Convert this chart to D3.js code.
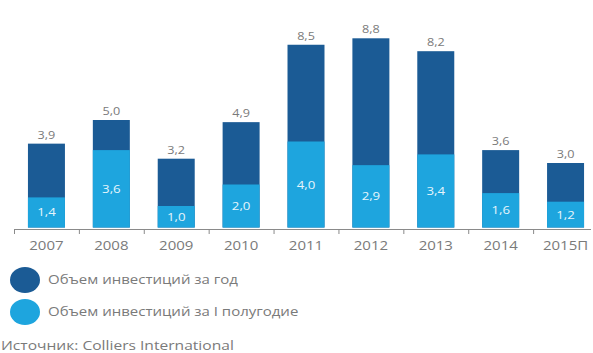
<!DOCTYPE html>
<html>
<head>
<meta charset="utf-8">
<script src="https://cdn.jsdelivr.net/npm/d3@7"></script>
<style>
  html, body { margin: 0; padding: 0; background: #fff; }
  svg { display: block; font-family: "Open Sans", "Noto Sans", sans-serif; }
</style>
</head>
<body>
<svg id="chart" width="593" height="353"></svg>
<script>
// Investment volume, bn (year total and first half-year)
const years = ["2007", "2008", "2009", "2010", "2011", "2012", "2013", "2014", "2015П"];
const totalYear = [3.9, 5.0, 3.2, 4.9, 8.5, 8.8, 8.2, 3.6, 3.0];
const firstHalf = [1.4, 3.6, 1.0, 2.0, 4.0, 2.9, 3.4, 1.6, 1.2];
const legendLabels = ["Объем инвестиций за год", "Объем инвестиций за I полугодие"];
const sourceText = "Источник: Colliers International";

const colorYear = "#1b5b95";
const colorHalf = "#1ea5de";
const textGrey = "#7a7a7a";

const svg = d3.select("#chart");
const fmt = v => d3.format(".1f")(v).replace(".", ",");

// text set in a slightly widened face
function wideText(sel, cx, cy, opts) {
  const g = sel.append("g")
    .attr("transform", `translate(${cx},${cy}) scale(${opts.sx || 1.2},1)`);
  return g.append("text")
    .attr("text-anchor", opts.anchor || "middle")
    .attr("dy", "0.35em")
    .attr("font-size", opts.size)
    .attr("fill", opts.fill || textGrey)
    .text(opts.text);
}

const x = d3.scaleBand()
  .domain(years)
  .range([14, 598])
  .paddingInner(0.43)
  .paddingOuter(0.215);

const baseY = 227.5;
const y = d3.scaleLinear().domain([0, 10]).range([baseY, baseY - 215]);

const data = years.map((yr, i) => ({ yr, total: totalYear[i], half: firstHalf[i] }));

// full-year bars (dark)
svg.append("g").selectAll("rect").data(data).join("rect")
  .attr("x", d => x(d.yr))
  .attr("width", x.bandwidth())
  .attr("y", d => y(d.total))
  .attr("height", d => y(0) - y(d.total))
  .attr("fill", colorYear);

// first half-year bars (light) overlaid from the baseline
svg.append("g").selectAll("rect").data(data).join("rect")
  .attr("x", d => x(d.yr))
  .attr("width", x.bandwidth())
  .attr("y", d => y(d.half))
  .attr("height", d => y(0) - y(d.half))
  .attr("fill", colorHalf);

// totals above bars
const totalsG = svg.append("g");
data.forEach(d => wideText(totalsG, x(d.yr) + x.bandwidth() / 2, y(d.total) - 9,
  { size: 11, sx: 1.15, text: fmt(d.total) }));

// half-year values inside light segments
const halfG = svg.append("g");
data.forEach(d => wideText(halfG, x(d.yr) + x.bandwidth() / 2, (y(d.half) + y(0)) / 2,
  { size: 11.5, sx: 1.15, fill: "#e6f5fc", text: fmt(d.half) }));

// axis line with ticks between categories
const axisG = svg.append("g");
const gap = x.step() * x.paddingInner();
const axisY = 229.5;
axisG.append("line")
  .attr("x1", x(years[0]) - gap / 2).attr("x2", 591)
  .attr("y1", axisY).attr("y2", axisY)
  .attr("stroke", "#8a8a8a").attr("stroke-width", 1.2);
axisG.selectAll("line.tick").data(years).join("line")
  .attr("class", "tick")
  .attr("x1", d => x(d) - gap / 2 + 0.5)
  .attr("x2", d => x(d) - gap / 2 + 0.5)
  .attr("y1", axisY).attr("y2", axisY + 4.5)
  .attr("stroke", "#8a8a8a");
years.forEach(d => wideText(axisG, x(d) + x.bandwidth() / 2, 246,
  { size: 12.5, sx: 1.2, text: d }));

// legend
const legend = svg.append("g");
[colorYear, colorHalf].forEach((c, i) => {
  const cy = 280 + i * 32;
  legend.append("ellipse").attr("cx", 25).attr("cy", cy)
    .attr("rx", 15).attr("ry", 13).attr("fill", c);
  wideText(legend, 48, cy, { size: 12.5, sx: 1.2, anchor: "start", text: legendLabels[i] });
});

wideText(svg, 1, 345, { size: 13, sx: 1.2, anchor: "start", text: sourceText });
</script>
</body>
</html>
